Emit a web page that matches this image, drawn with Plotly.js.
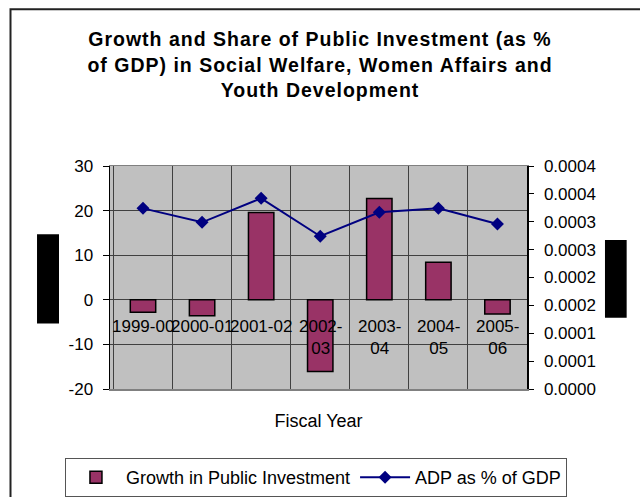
<!DOCTYPE html>
<html>
<head>
<meta charset="utf-8">
<script src="https://cdn.plot.ly/plotly-3.0.1.min.js"></script>
<style>
html,body{margin:0;padding:0;background:#fff;}
#chart{width:640px;height:497px;}
#chart .gtitle{letter-spacing:1px;}
</style>
</head>
<body>
<div id="chart"></div>
<script>
// ---- data ----
var fiscalYears = ["1999-00", "2000-01", "2001-02", "2002-03", "2003-04", "2004-05", "2005-06"];
var yearLabels = ["1999-00", "2000-01", "2001-02", "2002-<br>03", "2003-<br>04", "2004-<br>05", "2005-<br>06"];
var growthPublicInvestment = [-2.8, -3.6, 19.6, -16.1, 22.7, 8.4, -3.2];
var adpPctGdp = [0.000324, 0.000299, 0.000342, 0.000274, 0.000317, 0.000324, 0.000296];
var leftTickVals = [-20, -10, 0, 10, 20, 30];
var leftTickText = ["-20", "-10", "0", "10", "20", "30"];
var rightTickVals = [0, 0.00005, 0.0001, 0.00015, 0.0002, 0.00025, 0.0003, 0.00035, 0.0004];
var rightTickText = ["0.0000", "0.0001", "0.0001", "0.0002", "0.0002", "0.0003", "0.0003", "0.0004", "0.0004"];

var FONT = "Liberation Sans, Arial, sans-serif";

var traces = [
  {
    type: "bar",
    name: "Growth in Public Investment",
    x: fiscalYears,
    y: growthPublicInvestment,
    marker: {color: "#993366", line: {color: "#000000", width: 1.5}},
    yaxis: "y"
  },
  {
    type: "scatter",
    mode: "lines+markers",
    name: "ADP as % of GDP",
    x: fiscalYears,
    y: adpPctGdp,
    line: {color: "#000080", width: 2},
    marker: {symbol: "diamond", size: 10, color: "#000080"},
    yaxis: "y2"
  }
];

var annotations = fiscalYears.map(function (c, i) {
  return {
    x: c, y: 0, xref: "x", yref: "y",
    text: yearLabels[i],
    showarrow: false,
    yanchor: "top",
    yshift: -15,
    font: {family: FONT, size: 17, color: "#000"}
  };
});

var layout = {
  width: 640,
  height: 497,
  margin: {l: 110, r: 113, t: 166, b: 108, autoexpand: false},
  paper_bgcolor: "#ffffff",
  plot_bgcolor: "#C0C0C0",
  font: {family: FONT, size: 17, color: "#000"},
  title: {
    text: "Growth and Share of Public Investment (as %<br>of GDP) in Social Welfare, Women Affairs and<br>Youth Development",
    font: {family: FONT, size: 19.5, weight: "bold", color: "#000"},
    x: 0.5, xanchor: "center",
    y: 0.907, yanchor: "top"
  },
  bargap: 0.57,
  showlegend: true,
  legend: {
    orientation: "h",
    x: -0.108, xanchor: "left",
    y: -0.310, yanchor: "top",
    bgcolor: "#ffffff",
    bordercolor: "#555555",
    borderwidth: 1,
    font: {family: FONT, size: 18, color: "#000"},
    itemwidth: 50,
    traceorder: "normal"
  },
  xaxis: {
    type: "category",
    categoryorder: "array",
    categoryarray: fiscalYears,
    tickson: "boundaries",
    showgrid: true,
    gridcolor: "#404040",
    gridwidth: 1,
    showticklabels: false,
    ticks: "",
    showline: true,
    linecolor: "#808080",
    linewidth: 1.5,
    mirror: true,
    zeroline: false,
    automargin: false,
    title: {text: "Fiscal Year", font: {family: FONT, size: 18}, standoff: 25}
  },
  yaxis: {
    range: [-20, 30],
    tickvals: leftTickVals,
    ticktext: leftTickText,
    ticks: "outside",
    ticklen: 6,
    tickcolor: "#000",
    ticklabelstandoff: 6,
    showline: true,
    linecolor: "#000",
    linewidth: 1.5,
    showgrid: true,
    gridcolor: "#404040",
    gridwidth: 1,
    zeroline: true,
    zerolinecolor: "#404040",
    zerolinewidth: 1,
    automargin: false,
    tickfont: {family: FONT, size: 17},
    fixedrange: true
  },
  yaxis2: {
    overlaying: "y",
    side: "right",
    range: [0, 0.0004],
    tickvals: rightTickVals,
    ticktext: rightTickText,
    ticks: "outside",
    ticklen: 5,
    tickcolor: "#000",
    ticklabelstandoff: 7,
    showline: true,
    linecolor: "#000",
    linewidth: 1.5,
    showgrid: false,
    zeroline: false,
    automargin: false,
    tickfont: {family: FONT, size: 17},
    fixedrange: true
  },
  annotations: annotations,
  shapes: [
    {type: "rect", xref: "paper", yref: "paper", x0: -0.2386, x1: 1.4, y0: -0.6, y1: 1.703,
     line: {color: "#222", width: 2}, fillcolor: "rgba(0,0,0,0)", layer: "below"},
    {type: "rect", xref: "paper", yref: "paper", x0: -0.175, x1: -0.1223, y0: 0.2934, y1: 0.6945,
     line: {width: 0}, fillcolor: "#000"},
    {type: "rect", xref: "paper", yref: "paper", x0: 1.187, x1: 1.239, y0: 0.320, y1: 0.668,
     line: {width: 0}, fillcolor: "#000"}
  ]
};

Plotly.newPlot("chart", traces, layout, {displayModeBar: false, staticPlot: true});
</script>
</body>
</html>
